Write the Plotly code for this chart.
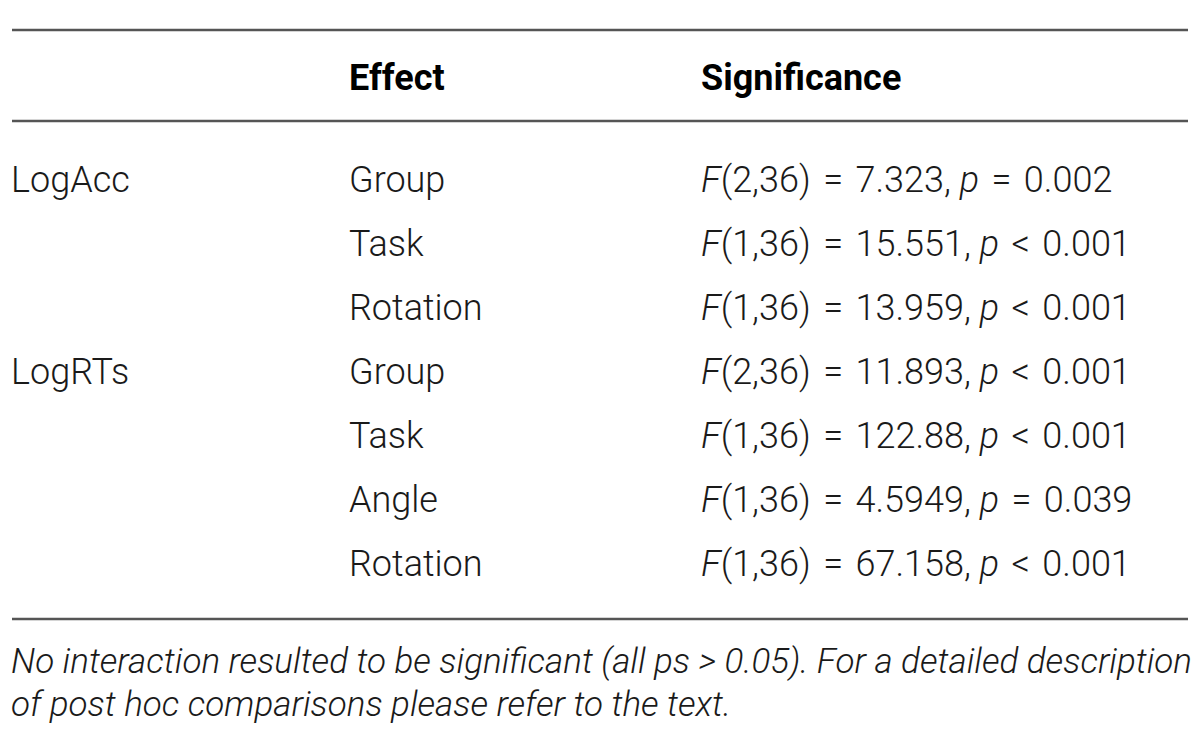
import plotly.graph_objects as go

# table content
measures = ["LogAcc", "", "", "LogRTs", "", "", ""]
effects = ["Group", "Task", "Rotation", "Group", "Task", "Angle", "Rotation"]
f_df = ["2,36", "1,36", "1,36", "2,36", "1,36", "1,36", "1,36"]
f_vals = ["7.323", "15.551", "13.959", "11.893", "122.88", "4.5949", "67.158"]
p_ops = ["=", "<", "<", "<", "<", "=", "<"]
p_vals = ["0.002", "0.001", "0.001", "0.001", "0.001", "0.039", "0.001"]
headers = ["", "Effect", "Significance"]
footnote = [
    "No interaction resulted to be significant (all ps &gt; 0.05). For a detailed description",
    "of post hoc comparisons please refer to the text.",
]

W, H = 1200, 735
PAGE_OFF = 8  # body margin of the html page
col_x = [11, 349, 701]
header_y = 81
first_row_y = 183
row_step = 64
rule_ys = [30, 121, 619]
foot_y0, foot_step = 664, 43

FONT = "Roboto"
TXT = "#1a1a1a"

rows_y = [first_row_y + i * row_step for i in range(len(effects))]


def sig_text(df, f, op, p):
    op = "&lt;" if op == "<" else op
    hs = "&#8202;"
    return f"<i>F</i>({df}) {hs}={hs} {f}, <i>p</i> {hs}{op}{hs} {p}"


significance = [sig_text(*t) for t in zip(f_df, f_vals, p_ops, p_vals)]

fig = go.Figure()

# header row
fig.add_trace(go.Scatter(
    x=col_x[1:], y=[header_y] * 2, text=headers[1:], mode="text",
    textposition="middle right",
    textfont=dict(family=FONT, size=36, color="#000", weight="bold"),
    hoverinfo="skip", showlegend=False,
))

# body columns
for cx, col in zip(col_x, [measures, effects, significance]):
    fig.add_trace(go.Scatter(
        x=[cx] * len(col), y=rows_y, text=col, mode="text",
        textposition="middle right",
        textfont=dict(family=FONT, size=36, color=TXT, weight=300),
        hoverinfo="skip", showlegend=False,
    ))

# footnote
fig.add_trace(go.Scatter(
    x=[col_x[0]] * len(footnote),
    y=[foot_y0 + i * foot_step for i in range(len(footnote))],
    text=footnote, mode="text", textposition="middle right",
    textfont=dict(family=FONT, size=35, color=TXT, style="italic", weight=300),
    hoverinfo="skip", showlegend=False,
))

for ry in rule_ys:
    fig.add_shape(type="line", x0=12, x1=1188, y0=ry, y1=ry,
                  xref="x", yref="y", line=dict(color="#555", width=2.5))

fig.update_xaxes(range=[PAGE_OFF, W + PAGE_OFF], visible=False, fixedrange=True)
fig.update_yaxes(range=[H + PAGE_OFF, PAGE_OFF], visible=False, fixedrange=True)
fig.update_layout(
    width=W, height=H, margin=dict(l=0, r=0, t=0, b=0),
    paper_bgcolor="white", plot_bgcolor="white",
)

fig.write_html("out.html")
